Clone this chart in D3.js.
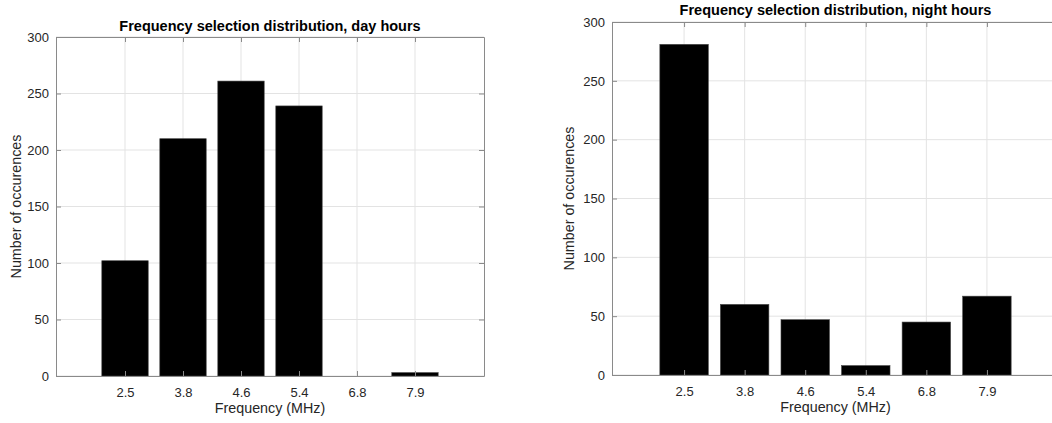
<!DOCTYPE html>
<html>
<head>
<meta charset="utf-8">
<script src="https://cdn.jsdelivr.net/npm/d3@7"></script>
<style>
  body { margin: 0; background: #fff; }
  svg { display: block; font-family: "Liberation Sans", Arial, sans-serif; }
  .grid line { stroke: #e3e3e3; stroke-width: 1; }
  .axis path, .axis line { stroke: #8a8a8a; }
  .axis text { fill: #262626; font-size: 13px; }
</style>
</head>
<body>
<div id="chart"></div>
<script>
var frequencies = ["2.5", "3.8", "4.6", "5.4", "6.8", "7.9"];
var dayCounts = [102, 210, 261, 239, 0, 3];
var nightCounts = [281, 60, 47, 8, 45, 67];
var yTicks = [0, 50, 100, 150, 200, 250, 300];

var totalWidth = 1052, totalHeight = 423;

var svg = d3.select("#chart").append("svg")
    .attr("width", totalWidth)
    .attr("height", totalHeight);

var panels = [
    { title: "Frequency selection distribution, day hours", values: dayCounts,
      left: 56, right: 484, top: 37, bottom: 376, ylabX: 15.5, titleY: 31 },
    { title: "Frequency selection distribution, night hours", values: nightCounts,
      left: 612, right: 1059, top: 22, bottom: 375, ylabX: 569, titleY: 15 }
];

panels.forEach(p => {
    var w = p.right - p.left, h = p.bottom - p.top;
    var g = svg.append("g").attr("transform", "translate(" + p.left + "," + p.top + ")");

    // categories sit at 1..6, limits slightly past a full step on each side
    var x = d3.scaleLinear().domain([-0.19, 7.19]).range([0, w]);
    var y = d3.scaleLinear().domain([0, 300]).range([h, 0]);
    var idx = frequencies.map((d, i) => i + 1);
    var barW = (x(2) - x(1)) * 0.8;

    // grid
    g.append("g").attr("class", "grid")
        .selectAll("line.gx").data(idx).enter().append("line")
        .attr("x1", d => x(d)).attr("x2", d => x(d))
        .attr("y1", 0).attr("y2", h);
    g.append("g").attr("class", "grid")
        .selectAll("line.gy").data(yTicks).enter().append("line")
        .attr("x1", 0).attr("x2", w)
        .attr("y1", d => y(d)).attr("y2", d => y(d));

    // bars
    g.selectAll(".bar")
        .data(p.values)
        .enter().append("rect")
        .attr("class", "bar")
        .attr("x", (d, i) => x(i + 1) - barW / 2)
        .attr("width", barW)
        .attr("y", d => y(d))
        .attr("height", d => h - y(d))
        .style("display", d => d === 0 ? "none" : null)
        .attr("fill", "#000")
        .attr("stroke", "#444")
        .attr("stroke-width", 0.6);

    // axes with inward ticks on all four sides
    var xAxis = d3.axisBottom(x).tickValues(idx)
        .tickFormat((d, i) => frequencies[i]).tickSizeInner(-5).tickSizeOuter(0).tickPadding(12);
    var yAxis = d3.axisLeft(y).tickValues(yTicks).tickSizeInner(-5).tickSizeOuter(0).tickPadding(7);

    g.append("g").attr("class", "axis").attr("transform", "translate(0," + h + ")").call(xAxis);
    g.append("g").attr("class", "axis").call(yAxis);
    g.append("g").attr("class", "axis")
        .call(d3.axisTop(x).tickValues(idx).tickFormat("").tickSizeInner(-5).tickSizeOuter(0));
    g.append("g").attr("class", "axis").attr("transform", "translate(" + w + ",0)")
        .call(d3.axisRight(y).tickValues(yTicks).tickFormat("").tickSizeInner(-5).tickSizeOuter(0));

    // title and labels
    svg.append("text")
        .attr("x", p.left + w / 2).attr("y", p.titleY)
        .attr("text-anchor", "middle")
        .style("font-size", "14.5px").style("font-weight", "bold").style("fill", "#000")
        .text(p.title);
    svg.append("text")
        .attr("x", p.left + w / 2).attr("y", p.bottom + 37)
        .attr("text-anchor", "middle")
        .style("font-size", "14.3px").style("fill", "#262626")
        .text("Frequency (MHz)");
    svg.append("text")
        .attr("transform", "translate(" + p.ylabX + "," + (p.top + h / 2) + ") rotate(-90)")
        .attr("text-anchor", "middle")
        .attr("dy", "0.35em")
        .style("font-size", "14.3px").style("fill", "#262626")
        .text("Number of occurences");
});
</script>
</body>
</html>
